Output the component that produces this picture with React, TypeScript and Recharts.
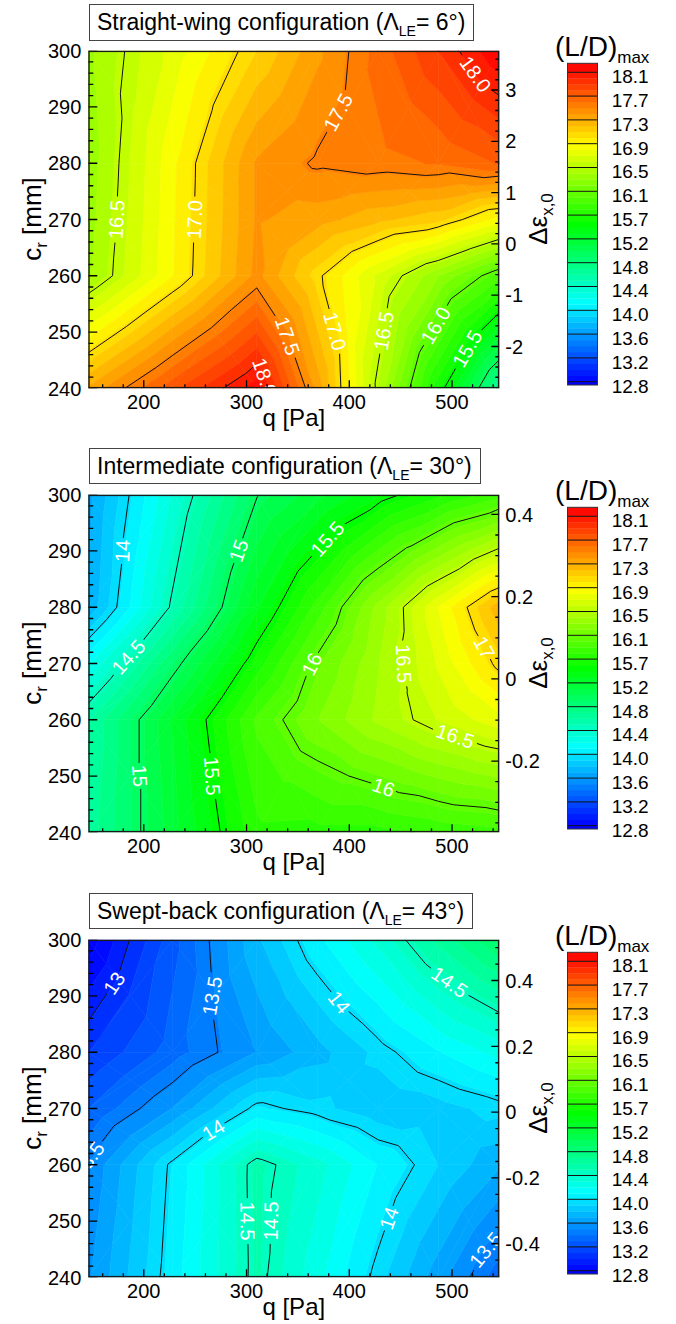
import React from 'react';
import { ScatterChart, Scatter, XAxis, YAxis } from 'recharts';

const FONT = '"Liberation Sans", Arial, Helvetica, sans-serif';

// measurement grid of the three wind-tunnel series
const qNodes = [146, 228, 310, 369, 428, 487, 546];
const crNodes = [240, 260, 270, 280, 300];

// (L/D)max at each node, one row per c_r (240 -> 300)
const straightWing = [
  [17.3, 17.76, 18.16, 17.34, 16.46, 15.58, 14.7],
  [16.35, 16.87, 17.42, 17.03, 16.65, 16.27, 15.89],
  [16.32, 16.86, 17.4, 17.33, 17.21, 17.11, 16.83],
  [16.3, 16.85, 17.4, 17.52, 17.56, 17.6, 17.7],
  [16.34, 16.71, 17.08, 17.36, 17.63, 17.9, 18.2],
];
const intermediate = [
  [14.67, 15.2, 15.73, 15.72, 15.72, 15.78, 15.82],
  [14.62, 15.25, 15.88, 16.16, 16.39, 16.58, 16.74],
  [14.21, 14.93, 15.6, 16.04, 16.36, 16.69, 17.04],
  [13.73, 14.53, 15.33, 15.8, 16.3, 16.78, 17.25],
  [13.68, 14.34, 14.99, 15.21, 15.43, 15.63, 15.82],
];
const sweptBack = [
  [13.6, 14.07, 14.55, 14.26, 13.96, 13.66, 13.35],
  [13.52, 14.03, 14.56, 14.37, 14.12, 13.92, 13.73],
  [13.31, 13.62, 14.04, 13.95, 13.85, 13.88, 13.96],
  [13.1, 13.36, 13.62, 13.78, 13.95, 14.12, 14.26],
  [12.74, 13.27, 13.8, 14.1, 14.36, 14.67, 14.94],
];

const straightLines = [15, 15.5, 16, 16.5, 17, 17.5, 18];
const intermediateLines = [14, 14.5, 15, 15.5, 16, 16.5, 17];
const sweptLines = [13, 13.5, 14, 14.5];

const straightLabels = [
  { text: '16.5', level: 16.5, q: 173, c: 270 },
  { text: '17.0', level: 17, q: 249, c: 270 },
  { text: '17.5', level: 17.5, q: 380, c: 290 },
  { text: '18.0', level: 18, q: 524, c: 296 },
  { text: '17.5', level: 17.5, q: 335, c: 249 },
  { text: '18.0', level: 18, q: 318, c: 242 },
  { text: '17.0', level: 17, q: 383, c: 250 },
  { text: '16.5', level: 16.5, q: 440, c: 250 },
  { text: '16.0', level: 16, q: 495, c: 250 },
  { text: '15.5', level: 15.5, q: 520, c: 246.5 },
];
const intermediateLabels = [
  { text: '14', level: 14, q: 180, c: 290 },
  { text: '14.5', level: 14.5, q: 186, c: 271 },
  { text: '15', level: 15, q: 293, c: 290 },
  { text: '15', level: 15, q: 194, c: 250 },
  { text: '15.5', level: 15.5, q: 392, c: 290 },
  { text: '15.5', level: 15.5, q: 266, c: 250 },
  { text: '16', level: 16, q: 362, c: 270 },
  { text: '16', level: 16, q: 440, c: 251.5 },
  { text: '16.5', level: 16.5, q: 453, c: 270 },
  { text: '16.5', level: 16.5, q: 501, c: 256 },
  { text: '17', level: 17, q: 530, c: 272.7 },
];
const sweptLabels = [
  { text: '13', level: 13, q: 167, c: 292.8 },
  { text: '13.5', level: 13.5, q: 267, c: 290 },
  { text: '14', level: 14, q: 398, c: 290 },
  { text: '14.5', level: 14.5, q: 501, c: 293.4 },
  { text: '13.5', level: 13.5, q: 150, c: 259 },
  { text: '14', level: 14, q: 267, c: 266.4 },
  { text: '14.5', level: 14.5, q: 301, c: 250 },
  { text: '14.5', level: 14.5, q: 329, c: 250 },
  { text: '14', level: 14, q: 440, c: 250.4 },
  { text: '13.5', level: 13.5, q: 530, c: 245.3 },
];

// right axis (delta epsilon x,0)
const straightEps = { domain: [-2.815, 3.766], major: 1, minor: 0.2 };
const intermediateEps = { domain: [-0.373, 0.448], major: 0.2, minor: 0.05 };
const sweptEps = { domain: [-0.502, 0.524], major: 0.2, minor: 0.05 };

const legendLabels = ['12.8', '13.2', '13.6', '14.0', '14.4', '14.8', '15.2', '15.7', '16.1', '16.5', '16.9', '17.3', '17.7', '18.1'];
const LD_MIN = 12.8;
const LD_MAX = 18.1;
const FILL_STEPS = 52;

const Q_DOMAIN = [146, 546];
const CR_DOMAIN = [240, 300];
const crTicks = steps(240, 300, 2);
const qTicks = steps(160, 540, 20);

function steps(from: number, to: number, step: number) {
  const out: number[] = [];
  const n = Math.floor((to - from) / step + 1e-6);
  for (let i = 0; i <= n; i++) out.push(Math.round((from + i * step) * 1000) / 1000);
  return out;
}
const isMajor = (v: number, m: number) => Math.abs(v / m - Math.round(v / m)) < 1e-6;

const ldColor = (v: number) => {
  const t = Math.min(1, Math.max(0, (v - LD_MIN) / 5.4));
  return `hsl(${(240 * (1 - t)).toFixed(1)}, 100%, 50%)`;
};

type Node = { q: number; c: number; v: number };

function triangles(grid: number[][]) {
  const tris: Node[][] = [];
  for (let j = 0; j < crNodes.length - 1; j++) {
    for (let i = 0; i < qNodes.length - 1; i++) {
      const a = { q: qNodes[i], c: crNodes[j], v: grid[j][i] };
      const b = { q: qNodes[i + 1], c: crNodes[j], v: grid[j][i + 1] };
      const d = { q: qNodes[i + 1], c: crNodes[j + 1], v: grid[j + 1][i + 1] };
      const e = { q: qNodes[i], c: crNodes[j + 1], v: grid[j + 1][i] };
      const m = { q: (a.q + b.q) / 2, c: (a.c + e.c) / 2, v: (a.v + b.v + d.v + e.v) / 4 };
      tris.push([a, b, m], [b, d, m], [d, e, m], [e, a, m]);
    }
  }
  return tris;
}

function clip(poly: Node[], level: number, above: boolean) {
  const out: Node[] = [];
  for (let i = 0; i < poly.length; i++) {
    const a = poly[i];
    const b = poly[(i + 1) % poly.length];
    const ina = above ? a.v >= level : a.v <= level;
    const inb = above ? b.v >= level : b.v <= level;
    if (ina) out.push(a);
    if (ina !== inb) {
      const t = (level - a.v) / (b.v - a.v);
      out.push({ q: a.q + t * (b.q - a.q), c: a.c + t * (b.c - a.c), v: level });
    }
  }
  return out;
}

type Label = { text: string; level: number; q: number; c: number };
type Eps = { domain: number[]; major: number; minor: number };

const epsTickValues = (eps: Eps) =>
  steps(Math.ceil(eps.domain[0] / eps.minor - 1e-6) * eps.minor, eps.domain[1], eps.minor);

function buildGeometry(grid: number[][], lines: number[], labels: Label[], eps: Eps) {
  const tris = triangles(grid);
  const step = (LD_MAX - LD_MIN) / FILL_STEPS;
  const bounds = [-99];
  for (let k = 0; k <= FILL_STEPS; k++) bounds.push(LD_MIN + k * step);
  bounds.push(99);
  const pts: { q: number; c: number }[] = [];
  const polys: { n: number; color: string }[] = [];
  tris.forEach((t) => {
    for (let b = 0; b < bounds.length - 1; b++) {
      const lo = bounds[b];
      const hi = bounds[b + 1];
      const p = clip(clip(t, lo, true), hi, false);
      if (p.length < 3) continue;
      const mid = lo < 0 ? LD_MIN - 0.05 : hi > 50 ? LD_MAX + 0.05 : (lo + hi) / 2;
      polys.push({ n: p.length, color: ldColor(mid) });
      p.forEach((v) => pts.push({ q: v.q, c: v.c }));
    }
  });
  const segs: number[] = [];
  lines.forEach((L) => {
    tris.forEach((t) => {
      const cut: { q: number; c: number }[] = [];
      for (let k = 0; k < 3; k++) {
        const a = t[k];
        const b = t[(k + 1) % 3];
        if (a.v < L !== b.v < L) {
          const s = (L - a.v) / (b.v - a.v);
          cut.push({ q: a.q + s * (b.q - a.q), c: a.c + s * (b.c - a.c) });
        }
      }
      if (cut.length === 2) {
        segs.push(L);
        pts.push(cut[0], cut[1]);
      }
    });
  });
  labels.forEach((l) => pts.push({ q: l.q, c: l.c }));
  // frame corners and inward tick marks, placed through the same scales
  pts.push({ q: Q_DOMAIN[0], c: CR_DOMAIN[0] }, { q: Q_DOMAIN[1], c: CR_DOMAIN[1] });
  const ticks: { side: 'l' | 'b' | 'r'; major: boolean }[] = [];
  crTicks.forEach((t) => {
    ticks.push({ side: 'l', major: isMajor(t, 10) });
    pts.push({ q: Q_DOMAIN[0], c: t });
  });
  qTicks.forEach((t) => {
    ticks.push({ side: 'b', major: isMajor(t, 100) });
    pts.push({ q: t, c: CR_DOMAIN[0] });
  });
  const [e0, e1] = eps.domain;
  epsTickValues(eps).forEach((t) => {
    ticks.push({ side: 'r', major: isMajor(t, eps.major) });
    pts.push({ q: Q_DOMAIN[1], c: CR_DOMAIN[0] + ((t - e0) / (e1 - e0)) * (CR_DOMAIN[1] - CR_DOMAIN[0]) });
  });
  return { pts, polys, segs, ticks };
}

const contourLayer = (geo: ReturnType<typeof buildGeometry>, labels: Label[], id: string) =>
  function ContourLayer(props: any) {
    const P: { x: number; y: number }[] = props.points;
    let k = 0;
    const fills = geo.polys.map((p, i) => {
      const s = P.slice(k, k + p.n);
      k += p.n;
      const d = s.map((pt) => `${pt.x.toFixed(2)},${pt.y.toFixed(2)}`).join(' ');
      return <polygon key={i} points={d} fill={p.color} stroke={p.color} strokeWidth={0.6} />;
    });
    const segs = geo.segs.map((level) => {
      const a = P[k];
      const b = P[k + 1];
      k += 2;
      return { level, a, b };
    });
    const placed = labels.map((l) => {
      const p = P[k++];
      let best = { x: p.x, y: p.y, ang: 0 };
      let bestD = Infinity;
      segs.forEach((s) => {
        if (Math.abs(s.level - l.level) > 1e-6) return;
        const dx = s.b.x - s.a.x;
        const dy = s.b.y - s.a.y;
        const L2 = dx * dx + dy * dy;
        if (L2 < 1e-6) return;
        const t = Math.min(1, Math.max(0, ((p.x - s.a.x) * dx + (p.y - s.a.y) * dy) / L2));
        const px = s.a.x + t * dx;
        const py = s.a.y + t * dy;
        const dd = Math.hypot(p.x - px, p.y - py);
        if (dd < bestD) {
          bestD = dd;
          let ang = (Math.atan2(dy, dx) * 180) / Math.PI;
          if (ang > 90) ang -= 180;
          if (ang <= -90) ang += 180;
          best = { x: px, y: py, ang };
        }
      });
      return { ...best, text: l.text };
    });
    const lo = P[k++];
    const hi = P[k++];
    const marks = geo.ticks.map((t, i) => {
      const p = P[k++];
      if (t.side === 'l') return <line key={i} x1={p.x} x2={p.x + (t.major ? 9 : 5)} y1={p.y} y2={p.y} stroke="#000" strokeWidth={1.3} />;
      if (t.side === 'b') return <line key={i} x1={p.x} x2={p.x} y1={p.y} y2={p.y - (t.major ? 8 : 4)} stroke="#000" strokeWidth={1.3} />;
      return <line key={i} x1={p.x} x2={p.x - (t.major ? 8 : 4)} y1={p.y} y2={p.y} stroke="#000" strokeWidth={1.3} />;
    });
    return (
      <g>
        <defs>
          <mask id={id} maskUnits="userSpaceOnUse" x={0} y={0} width={676} height={444}>
            <rect x={0} y={0} width={676} height={444} fill="#fff" />
            {placed.map((l, i) => (
              <rect
                key={i}
                x={-(l.text.length * 10 + 6) / 2}
                y={-8}
                width={l.text.length * 10 + 6}
                height={16}
                fill="#000"
                transform={`translate(${l.x},${l.y}) rotate(${l.ang})`}
              />
            ))}
          </mask>
        </defs>
        {fills}
        <g mask={`url(#${id})`}>
          {segs.map((s, i) => (
            <line key={i} x1={s.a.x} y1={s.a.y} x2={s.b.x} y2={s.b.y} stroke="#111" strokeWidth={1} />
          ))}
        </g>
        {placed.map((l, i) => (
          <text
            key={i}
            transform={`translate(${l.x},${l.y}) rotate(${l.ang})`}
            textAnchor="middle"
            dy="0.36em"
            fontSize={20}
            fontFamily={FONT}
            fill="#fff"
          >
            {l.text}
          </text>
        ))}
        {marks}
        <rect
          x={Math.min(lo.x, hi.x)}
          y={Math.min(lo.y, hi.y)}
          width={Math.abs(hi.x - lo.x)}
          height={Math.abs(hi.y - lo.y)}
          fill="none"
          stroke="#1a1a1a"
          strokeWidth={2.8}
        />
      </g>
    );
  };

const LeftTick = (props: any) => {
  const { x, y, payload } = props;
  if (!isMajor(payload.value, 10)) return <g />;
  return (
    <text x={x - 7} y={y} dy="0.36em" textAnchor="end" fontSize={20} fontFamily={FONT} fill="#000">
      {payload.value}
    </text>
  );
};

const BottomTick = (props: any) => {
  const { x, y, payload } = props;
  if (!isMajor(payload.value, 100)) return <g />;
  return (
    <text x={x} y={y + 21} textAnchor="middle" fontSize={20} fontFamily={FONT} fill="#000">
      {payload.value}
    </text>
  );
};

const makeRightTick = (majorStep: number) =>
  function RightTick(props: any) {
    const { x, y, payload } = props;
    if (!isMajor(payload.value, majorStep)) return <g />;
    return (
      <text x={x + 6} y={y} dy="0.36em" textAnchor="start" fontSize={20} fontFamily={FONT} fill="#000">
        {String(parseFloat(payload.value.toFixed(2)))}
      </text>
    );
  };

const QTitle = () => (
  <text x={293.8} y={426} textAnchor="middle" fontSize={24} fontFamily={FONT} fill="#000">
    q [Pa]
  </text>
);

const CrTitle = () => (
  <text transform="translate(41,219) rotate(-90)" textAnchor="middle" fontSize={26} fontFamily={FONT} fill="#000">
    c<tspan dy={6} fontSize={17}>r</tspan>
    <tspan dy={-6}> [mm]</tspan>
  </text>
);

const EpsTitle = () => (
  <text transform="translate(547,219) rotate(-90)" textAnchor="middle" fontSize={26} fontFamily={FONT} fill="#000">
    Δε<tspan dy={6} fontSize={17}>x,0</tspan>
  </text>
);

function ColorLegend() {
  const yTop = 72.3;
  const yBottom = 381.7;
  const y = (v: number) => yBottom - ((v - LD_MIN) / (LD_MAX - LD_MIN)) * (yBottom - yTop);
  const step = (LD_MAX - LD_MIN) / FILL_STEPS;
  const bands = [];
  for (let k = 0; k < FILL_STEPS; k++) {
    const lo = LD_MIN + k * step;
    bands.push(
      <rect key={k} x={567.5} width={30} y={y(lo + step)} height={y(lo) - y(lo + step) + 0.3} fill={ldColor(lo + step / 2)} />
    );
  }
  return (
    <svg width={676} height={444} style={{ position: 'absolute', left: 0, top: 0, pointerEvents: 'none' }}>
      <text x={555} y={56} fontSize={28} fontFamily={FONT} fill="#000">
        (L/D)<tspan dy={7} fontSize={17}>max</tspan>
      </text>
      <rect x={567.5} y={63.3} width={30} height={yTop - 63.3} fill={ldColor(LD_MAX + 0.05)} />
      <rect x={567.5} y={yBottom} width={30} height={385 - yBottom} fill={ldColor(LD_MIN - 0.05)} />
      {bands}
      {legendLabels.map((t, i) => {
        const yy = yBottom - (i * (yBottom - yTop)) / (legendLabels.length - 1);
        return (
          <g key={t}>
            <line x1={567.5} x2={597.5} y1={yy} y2={yy} stroke="#111" strokeWidth={1} />
            <text x={611.7} y={yy + 4} dy="0.36em" fontSize={19} fontFamily={FONT} fill="#000">
              {t}
            </text>
          </g>
        );
      })}
      <rect x={567.5} y={63.3} width={30} height={385 - 63.3} fill="none" stroke="#333" strokeWidth={1} />
    </svg>
  );
}

type PanelCfg = {
  id: string;
  title: string;
  sweep: string;
  grid: number[][];
  lines: number[];
  labels: Label[];
  eps: Eps;
};

const panels: PanelCfg[] = [
  { id: 'sw', title: 'Straight-wing configuration', sweep: '6°', grid: straightWing, lines: straightLines, labels: straightLabels, eps: straightEps },
  { id: 'im', title: 'Intermediate configuration', sweep: '30°', grid: intermediate, lines: intermediateLines, labels: intermediateLabels, eps: intermediateEps },
  { id: 'sb', title: 'Swept-back configuration', sweep: '43°', grid: sweptBack, lines: sweptLines, labels: sweptLabels, eps: sweptEps },
];

function Panel({ cfg, top }: { cfg: PanelCfg; top: number }) {
  const geo = React.useMemo(() => buildGeometry(cfg.grid, cfg.lines, cfg.labels, cfg.eps), [cfg]);
  const layer = React.useMemo(() => contourLayer(geo, cfg.labels, `mask-${cfg.id}`), [geo, cfg]);
  const RightTick = React.useMemo(() => makeRightTick(cfg.eps.major), [cfg]);
  return (
    <div style={{ position: 'absolute', left: 0, top, width: 676, height: 444 }}>
      <ScatterChart width={676} height={444} margin={{ top: 50.7, right: 116.7, bottom: 5.7, left: 0 }}>
        <Scatter
          xAxisId="q"
          yAxisId="cr"
          data={geo.pts}
          shape={() => <g />}
          line={(p: any) => React.createElement(layer, p)}
          isAnimationActive={false}
        />
        <XAxis
          xAxisId="q"
          type="number"
          dataKey="q"
          domain={Q_DOMAIN}
          allowDataOverflow
          ticks={qTicks}
          interval={0}
          axisLine={false}
          tickLine={false}
          tickSize={0}
          tickMargin={0}
          tick={<BottomTick />}
          height={50}
          label={<QTitle />}
        />
        <YAxis
          yAxisId="cr"
          type="number"
          dataKey="c"
          domain={CR_DOMAIN}
          allowDataOverflow
          ticks={crTicks}
          interval={0}
          axisLine={false}
          tickLine={false}
          tickSize={0}
          tickMargin={0}
          tick={<LeftTick />}
          width={88.3}
          label={<CrTitle />}
        />
        <YAxis
          yAxisId="eps"
          orientation="right"
          type="number"
          domain={cfg.eps.domain}
          allowDataOverflow
          ticks={epsTickValues(cfg.eps)}
          interval={0}
          axisLine={false}
          tickLine={false}
          tickSize={0}
          tickMargin={0}
          tick={<RightTick />}
          width={60}
          label={<EpsTitle />}
        />
      </ScatterChart>
      <ColorLegend />
      <div
        style={{
          position: 'absolute',
          left: 89,
          top: 4,
          height: 36.7,
          boxSizing: 'border-box',
          border: '1px solid #444',
          padding: '0 8px 0 7px',
          background: '#fff',
          fontFamily: FONT,
          fontSize: 23,
          lineHeight: '34px',
          whiteSpace: 'nowrap',
          color: '#000',
        }}
      >
        {cfg.title} (Λ
        <span style={{ fontSize: 14, position: 'relative', top: 6 }}>LE</span>= {cfg.sweep})
      </div>
    </div>
  );
}

export default function App() {
  return (
    <div style={{ position: 'absolute', left: 0, top: 0, width: 676, height: 1324, background: '#fff' }}>
      <Panel cfg={panels[0]} top={0} />
      <Panel cfg={panels[1]} top={443.6} />
      <Panel cfg={panels[2]} top={888.6} />
    </div>
  );
}
